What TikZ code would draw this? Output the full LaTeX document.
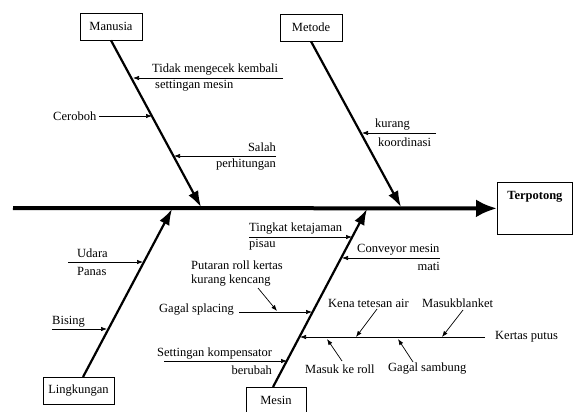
\documentclass[tikz,border=0pt]{standalone}
\usepackage{fontspec}
\setmainfont{Liberation Serif}
\usetikzlibrary{arrows.meta}

\tikzset{
  catbox/.style={draw, line width=0.8pt, inner sep=0pt, minimum height=27pt,
    font=\fontsize{12.5}{14}\selectfont},
  lbl/.style={inner sep=0pt, font=\fontsize{12.5}{14}\selectfont},
  spine/.style={line width=4pt, -{Latex[length=21pt,width=18pt]}},
  bone/.style={line width=2.2pt, -{Latex[length=16pt,width=11pt]}},
  cause/.style={line width=0.7pt, -{Latex[length=6pt,width=4.5pt]}},
}

\begin{document}
\begin{tikzpicture}[x=1pt,y=-1pt]
\clip (0,0) rectangle (573,412);

% kategori
\node (manusia) [catbox, minimum width=62pt] at (111,26.5) {Manusia};
\node (metode) [catbox, minimum width=62pt] at (311,27.5) {Metode};
\node (lingkungan) [catbox, minimum width=71pt] at (78.5,390.5) {Lingkungan};
\node (mesin) [catbox, minimum width=60pt] at (276,400.5) {Mesin};
\node (terpotong) [catbox, minimum width=75pt, minimum height=52pt, anchor=north west] at (497,182) {};
\node (akibat) [lbl, font=\fontsize{12.5}{14}\selectfont\bfseries] at ([yshift=-15pt]terpotong.north) {Terpotong};

% tulang utama
\coordinate (ekor) at (13,208);
\draw [spine] (ekor) -- (terpotong.west);

\coordinate (m1) at (201,207);
\coordinate (m2) at (401,207);
\coordinate (l0) at (83,377);
\coordinate (l1) at (172,209);
\coordinate (s0) at (273,387);
\coordinate (s1) at (367,209);
\draw [bone] (manusia.south) -- (m1);
\draw [bone] (metode.south) -- (m2);
\draw [bone] (l0) -- (l1);
\draw [bone] (s0) -- (s1);

% manusia
\node (tidak) [lbl, anchor=west] at (152,70) {Tidak mengecek kembali};
\node (tidak2) [lbl, anchor=west] at (155,86) {settingan mesin};
\coordinate (tidak-a) at (283,78);
\coordinate (tidak-b) at (133,78);
\draw [cause] (tidak-a) -- (tidak-b);
\node (ceroboh) [lbl, anchor=west] at (53,116) {Ceroboh};
\coordinate (ceroboh-b) at (152,116);
\draw [cause] ([xshift=3pt]ceroboh.east) -- (ceroboh-b);
\node (salah) [lbl, anchor=east] at (276,147) {Salah};
\node (salah2) [lbl, anchor=east] at (276,165) {perhitungan};
\coordinate (salah-a) at (276,156);
\coordinate (salah-b) at (174,156);
\draw [cause] (salah-a) -- (salah-b);

% metode
\node (kurang) [lbl, anchor=west] at (375,125) {kurang};
\node (kurang2) [lbl, anchor=west] at (378,142) {koordinasi};
\coordinate (kurang-a) at (436,133);
\coordinate (kurang-b) at (362,133);
\draw [cause] (kurang-a) -- (kurang-b);

% lingkungan
\node (udara) [lbl, anchor=west] at (77,253) {Udara};
\node (udara2) [lbl, anchor=west] at (77,271) {Panas};
\coordinate (udara-a) at (68,262);
\coordinate (udara-b) at (143,262);
\draw [cause] (udara-a) -- (udara-b);
\node (bising) [lbl, anchor=west] at (52,322) {Bising};
\coordinate (bising-a) at (52,329);
\coordinate (bising-b) at (107,329);
\draw [cause] (bising-a) -- (bising-b);

% mesin
\node (tingkat) [lbl, anchor=west] at (249,229) {Tingkat ketajaman};
\node (tingkat2) [lbl, anchor=west] at (249,245) {pisau};
\coordinate (tingkat-a) at (249,237);
\coordinate (tingkat-b) at (352,237);
\draw [cause] (tingkat-a) -- (tingkat-b);
\node (conveyor) [lbl, anchor=west] at (357,250) {Conveyor mesin};
\node (conveyor2) [lbl, anchor=east] at (440,266) {mati};
\coordinate (conveyor-a) at (440,258);
\coordinate (conveyor-b) at (342,258);
\draw [cause] (conveyor-a) -- (conveyor-b);
\node (putaran) [lbl, anchor=west] at (191,265) {Putaran roll kertas};
\node (putaran2) [lbl, anchor=west] at (191,281) {kurang kencang};
\coordinate (putaran-a) at (258,288);
\coordinate (putaran-b) at (277,311);
\draw [cause] (putaran-a) -- (putaran-b);
\node (gagal) [lbl, anchor=west] at (159,310) {Gagal splacing};
\coordinate (gagal-a) at (239,312);
\coordinate (gagal-b) at (312,312);
\draw [cause] (gagal-a) -- (gagal-b);
\node (kena) [lbl, anchor=west] at (328,303) {Kena tetesan air};
\coordinate (kena-a) at (377,309);
\coordinate (kena-b) at (356,337);
\draw [cause] (kena-a) -- (kena-b);
\node (blanket) [lbl, anchor=west] at (422,303) {Masukblanket};
\coordinate (blanket-a) at (463,310);
\coordinate (blanket-b) at (442,337);
\draw [cause] (blanket-a) -- (blanket-b);
\node (putus) [lbl, anchor=west] at (495,337) {Kertas putus};
\coordinate (putus-b) at (300,337);
\draw [cause] ([xshift=-10pt]putus.west) -- (putus-b);
\node (roll) [lbl, anchor=west] at (305,369) {Masuk ke roll};
\coordinate (roll-a) at (342,361);
\coordinate (roll-b) at (327,339);
\draw [cause] (roll-a) -- (roll-b);
\node (sambung) [lbl, anchor=west] at (388,369) {Gagal sambung};
\coordinate (sambung-a) at (413,362);
\coordinate (sambung-b) at (398,339);
\draw [cause] (sambung-a) -- (sambung-b);
\node (setting) [lbl, anchor=west] at (157,354) {Settingan kompensator};
\node (setting2) [lbl, anchor=east] at (272,370) {berubah};
\coordinate (setting-a) at (164,361);
\coordinate (setting-b) at (287,361);
\draw [cause] (setting-a) -- (setting-b);
\end{tikzpicture}
\end{document}
